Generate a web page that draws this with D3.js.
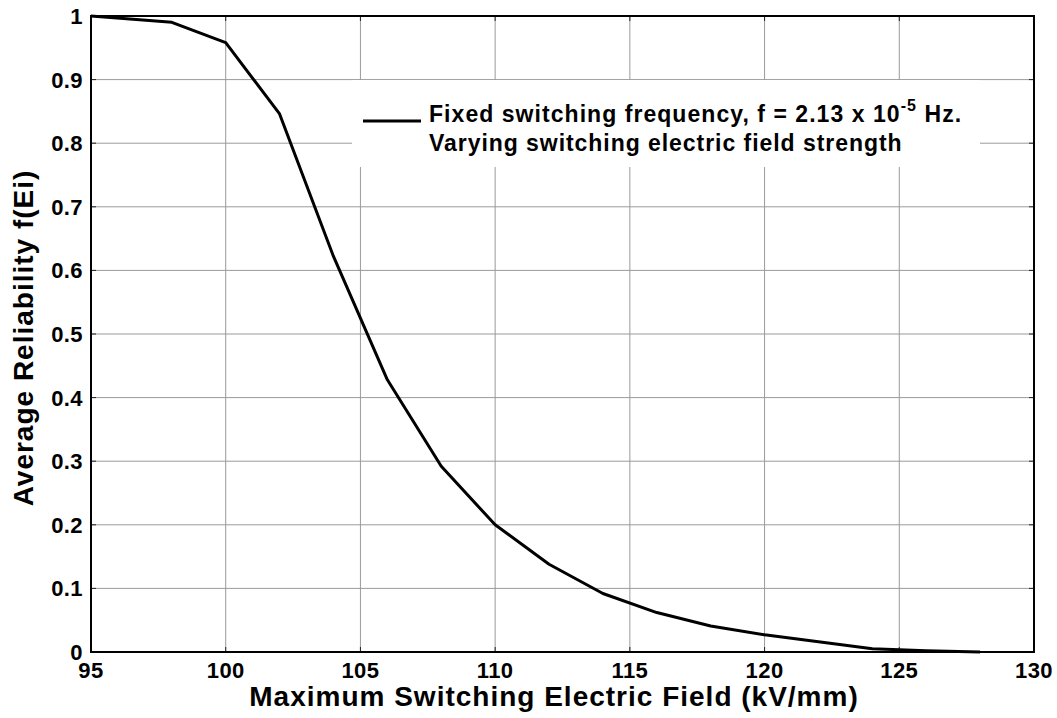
<!DOCTYPE html>
<html>
<head>
<meta charset="utf-8">
<script src="https://cdn.jsdelivr.net/npm/d3@7"></script>
<style>
  html, body { margin: 0; padding: 0; background: #fff; }
  text { font-family: Arial, "Liberation Sans", sans-serif; font-weight: bold; fill: #000; }
</style>
</head>
<body>
<svg id="chart" width="1057" height="718"></svg>
<script>
// ---- data ----
const fieldKVmm = [95, 98, 100, 102, 104, 106, 108, 110, 112, 114, 116, 118, 120, 122, 124, 126, 128];
const reliability = [1.0, 0.99, 0.958, 0.846, 0.622, 0.428, 0.292, 0.2, 0.138, 0.092, 0.062, 0.041, 0.027, 0.016, 0.005, 0.002, 0.0];
const xTicks = [95, 100, 105, 110, 115, 120, 125, 130];
const yTicks = [0, 0.1, 0.2, 0.3, 0.4, 0.5, 0.6, 0.7, 0.8, 0.9, 1];
const xLabel = "Maximum Switching Electric Field (kV/mm)";
const yLabel = "Average Reliability f(Ei)";
const legendLine1 = "Fixed switching frequency, f = 2.13 x 10";
const legendSup = "-5";
const legendLine1End = " Hz.";
const legendLine2 = "Varying switching electric field strength";

// ---- layout ----
const L = 91, R = 1034, T = 16, B = 652;
const svg = d3.select("#chart");
svg.append("rect").attr("width", 1057).attr("height", 718).attr("fill", "#fff");

const x = d3.scaleLinear().domain([95, 130]).range([L, R]);
const y = d3.scaleLinear().domain([0, 1]).range([B, T]);

// grid
const grid = svg.append("g");
grid.selectAll("line.vx").data(xTicks.slice(1, -1)).enter().append("line")
  .attr("x1", d => x(d)).attr("x2", d => x(d)).attr("y1", T).attr("y2", B)
  .attr("stroke", "#9a9a9a").attr("stroke-width", 1);
grid.selectAll("line.hy").data(yTicks.slice(1, -1)).enter().append("line")
  .attr("x1", L).attr("x2", R).attr("y1", d => y(d)).attr("y2", d => y(d))
  .attr("stroke", "#9a9a9a").attr("stroke-width", 1);

// ticks (inward, all sides)
const tk = svg.append("g").attr("stroke", "#222").attr("stroke-width", 1);
xTicks.forEach(d => {
  tk.append("line").attr("x1", x(d)).attr("x2", x(d)).attr("y1", B).attr("y2", B - 5);
  tk.append("line").attr("x1", x(d)).attr("x2", x(d)).attr("y1", T).attr("y2", T + 5);
});
yTicks.forEach(d => {
  tk.append("line").attr("x1", L).attr("x2", L + 5).attr("y1", y(d)).attr("y2", y(d));
  tk.append("line").attr("x1", R).attr("x2", R - 5).attr("y1", y(d)).attr("y2", y(d));
});

// legend background box (drawn before data line)
const legX0 = 352, legY0 = 80, legX1 = 980, legY1 = 167;
svg.append("rect").attr("x", legX0).attr("y", legY0).attr("width", legX1 - legX0).attr("height", legY1 - legY0)
  .attr("fill", "#fff");

// data line
const line = d3.line().x((d, i) => x(fieldKVmm[i])).y(d => y(d));
svg.append("path").datum(reliability).attr("d", line)
  .attr("fill", "none").attr("stroke", "#000").attr("stroke-width", 3).attr("stroke-linejoin", "round");

// axes box
svg.append("rect").attr("x", L).attr("y", T).attr("width", R - L).attr("height", B - T)
  .attr("fill", "none").attr("stroke", "#000").attr("stroke-width", 2);

// tick labels
svg.append("g").selectAll("text").data(xTicks).enter().append("text")
  .attr("x", d => x(d)).attr("y", 678).attr("text-anchor", "middle")
  .style("font-size", "22px").style("letter-spacing", "0.4px").text(d => d);
svg.append("g").selectAll("text").data(yTicks).enter().append("text")
  .attr("x", 83).attr("y", d => y(d) + 8).attr("text-anchor", "end")
  .style("font-size", "22px").style("letter-spacing", "0.4px").text(d => d);

// axis labels
svg.append("text").attr("x", 554).attr("y", 706).attr("text-anchor", "middle")
  .style("font-size", "28px").style("letter-spacing", "1px").text(xLabel);
svg.append("text").attr("transform", "translate(33,338) rotate(-90)").attr("text-anchor", "middle")
  .style("font-size", "28px").style("letter-spacing", "1px").text(yLabel);

// legend
svg.append("line").attr("x1", 363).attr("x2", 421).attr("y1", 121).attr("y2", 121)
  .attr("stroke", "#000").attr("stroke-width", 3);
const t1 = svg.append("text").attr("x", 429).attr("y", 122).style("font-size", "23px").style("letter-spacing", "1.05px");
t1.append("tspan").text(legendLine1);
t1.append("tspan").attr("dy", -11).style("font-size", "16px").text(legendSup);
t1.append("tspan").attr("dy", 11).text(legendLine1End);
svg.append("text").attr("x", 429).attr("y", 151).style("font-size", "23px").style("letter-spacing", "0.95px").text(legendLine2);
</script>
</body>
</html>
